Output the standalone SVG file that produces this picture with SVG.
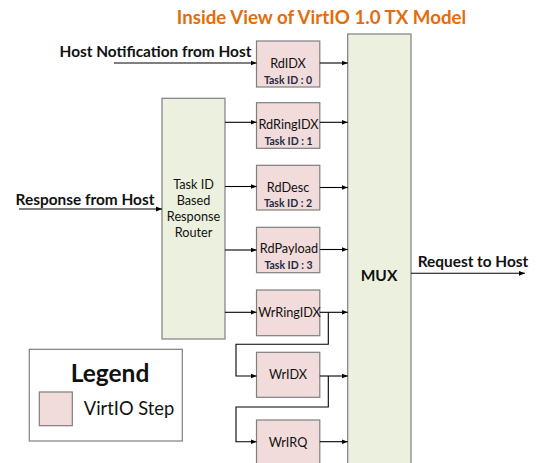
<svg xmlns="http://www.w3.org/2000/svg" width="536" height="463" viewBox="0 0 536 463">
<style>
.step{fill:#F2DCDB;stroke:#7F7F7F;stroke-width:1.2}
.blk{fill:#EBF1DE;stroke:#7F7F7F;stroke-width:1.2}
.t{font-family:Lato,"Open Sans","Liberation Sans",sans-serif;fill:#111;text-anchor:middle}
.n{font-size:12.7px}
.id{font-size:10.5px;font-weight:bold;fill:#1F2A44}
.lbl{font-size:15.4px;font-weight:bold}
.ln{fill:none;stroke:#000;stroke-width:1.1}
</style>
<defs>
<marker id="ah" viewBox="0 0 6 6" refX="6" refY="3" markerWidth="6" markerHeight="6" markerUnits="userSpaceOnUse" orient="auto">
<path d="M0,0.6 L6,3 L0,5.4 Z" fill="#000"/>
</marker>
</defs>
<text class="t" x="321.5" y="24" style="font-size:18.7px;font-weight:bold;fill:#E46C0A">Inside View of VirtIO 1.0 TX Model</text>
<g id="mux"><rect class="blk" x="347.7" y="34" width="63.3" height="440"/><text class="t" x="379" y="281" style="font-size:15.5px;font-weight:bold">MUX</text></g>
<g id="router"><rect class="blk" x="162" y="98.3" width="63" height="240.7"/>
<text class="t n" x="193.5" y="189">Task ID</text><text class="t n" x="193.5" y="205">Based</text><text class="t n" x="193.5" y="221">Response</text><text class="t n" x="193.5" y="237">Router</text></g>
<g id="rdidx"><rect class="step" x="256.5" y="41" width="63.3" height="46"/><text class="t n" x="288" y="68">RdIDX</text><text class="t id" x="288" y="84">Task ID : 0</text></g>
<g id="rdringidx"><rect class="step" x="256.5" y="102.7" width="63.3" height="45.6"/><text class="t n" x="288.5" y="129">RdRingIDX</text><text class="t id" x="288.5" y="145">Task ID : 1</text></g>
<g id="rddesc"><rect class="step" x="256.5" y="165.3" width="63.3" height="44.7"/><text class="t n" x="288" y="191.5">RdDesc</text><text class="t id" x="288" y="207">Task ID : 2</text></g>
<g id="rdpayload"><rect class="step" x="256.5" y="227.3" width="63.3" height="45.4"/><text class="t n" x="289" y="253">RdPayload</text><text class="t id" x="288.5" y="269">Task ID : 3</text></g>
<g id="wrringidx"><rect class="step" x="256.5" y="290" width="63.3" height="45.7"/><text class="t n" x="289.5" y="317">WrRingIDX</text></g>
<g id="wridx"><rect class="step" x="256.5" y="352.3" width="63.3" height="45"/><text class="t n" x="288" y="378.5">WrIDX</text></g>
<g id="wrirq"><rect class="step" x="256.5" y="420" width="63.3" height="50"/><text class="t n" x="288" y="447">WrIRQ</text></g>
<g id="legend"><rect x="29.3" y="349.3" width="153" height="91.7" fill="#fff" stroke="#7F7F7F" stroke-width="1.2"/>
<text class="t" x="110" y="382" style="font-size:24.5px;font-weight:bold">Legend</text>
<rect class="step" x="39.3" y="392" width="33" height="33.7"/>
<text class="t" x="129" y="415" style="font-size:18.3px">VirtIO Step</text></g>
<g id="labels">
<text class="t lbl" x="155.5" y="56.5">Host Notification from Host</text>
<text class="t lbl" x="85" y="205">Response from Host</text>
<text class="t lbl" x="473" y="267">Request to Host</text>
</g>
<g id="connectors">
<path class="ln" d="M114,63 H256.5" marker-end="url(#ah)"/>
<path class="ln" d="M319.8,63 H347.7" marker-end="url(#ah)"/>
<path class="ln" d="M19,209 H162" marker-end="url(#ah)"/>
<path class="ln" d="M225,122.3 H256.5" marker-end="url(#ah)"/>
<path class="ln" d="M319.8,122.3 H347.7" marker-end="url(#ah)"/>
<path class="ln" d="M225,186.5 H256.5" marker-end="url(#ah)"/>
<path class="ln" d="M319.8,187.5 H347.7" marker-end="url(#ah)"/>
<path class="ln" d="M225,250 H256.5" marker-end="url(#ah)"/>
<path class="ln" d="M319.8,249.5 H347.7" marker-end="url(#ah)"/>
<path class="ln" d="M225,312.3 H256.5" marker-end="url(#ah)"/>
<path class="ln" d="M319.8,312.3 H347.7" marker-end="url(#ah)"/>
<path class="ln" d="M328.3,312.3 V344.3 H236 V376 H256.5" marker-end="url(#ah)"/>
<path class="ln" d="M319.8,376 H347.7" marker-end="url(#ah)"/>
<path class="ln" d="M328.3,376 V407 H236 V441.7 H256.5" marker-end="url(#ah)"/>
<path class="ln" d="M319.8,441.7 H347.7" marker-end="url(#ah)"/>
<path class="ln" d="M411,273.3 H525" marker-end="url(#ah)"/>
</g>
</svg>
